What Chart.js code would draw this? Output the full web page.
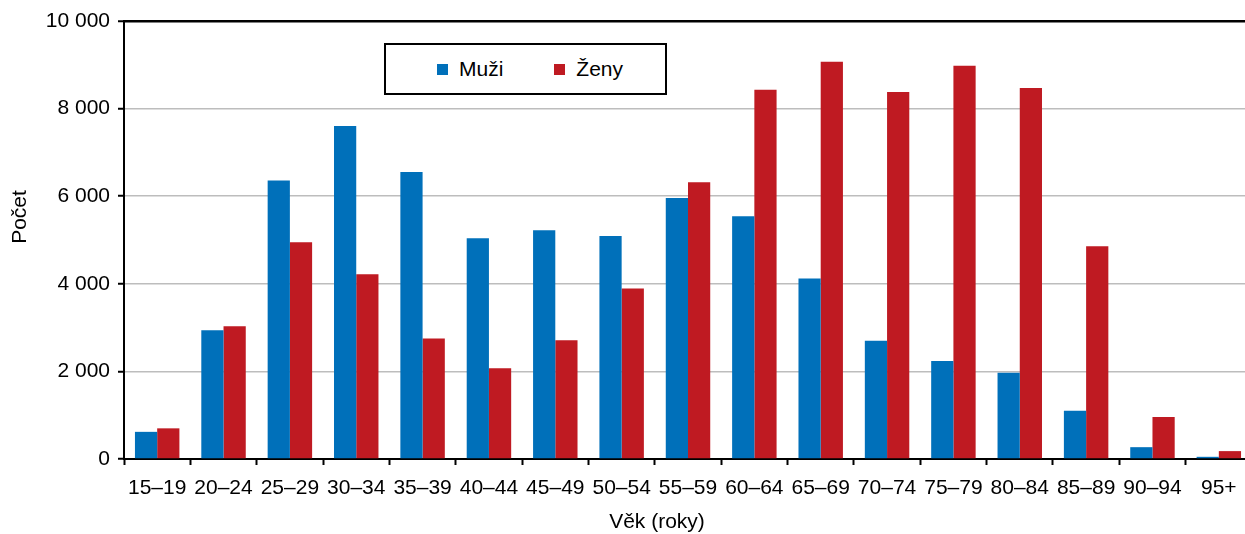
<!DOCTYPE html>
<html lang="cs">
<head>
<meta charset="utf-8">
<title>Počet podle věku</title>
<script src="https://cdn.jsdelivr.net/npm/chart.js@4/dist/chart.umd.min.js"></script>
<style>
  html, body { margin: 0; padding: 0; background: #fff; overflow: hidden; }
  /* plocha grafu v originále přesahuje pravý okraj o pár pixelů */
  #wrap { position: relative; width: 1252px; height: 534px; }
  #chart { display: block; }
  #legend {
    position: absolute; left: 384px; top: 43px; width: 283px; height: 52px;
    box-sizing: border-box; border: 2px solid #000; background: #fff;
    display: flex; align-items: center; padding-left: 51px;
    font: 21px "Liberation Sans", Arial, sans-serif; color: #000;
  }
  #legend .item { display: flex; align-items: center; margin-right: 51px; }
  #legend .box { width: 11px; height: 11px; margin-right: 11px; }
</style>
</head>
<body>
<div id="wrap">
  <canvas id="chart"></canvas>
  <div id="legend"></div>
</div>
<script>
  // --- data ---
  const ageGroups = ["15–19", "20–24", "25–29", "30–34", "35–39", "40–44", "45–49", "50–54",
                     "55–59", "60–64", "65–69", "70–74", "75–79", "80–84", "85–89", "90–94", "95+"];
  const muzi = [620, 2940, 6360, 7600, 6550, 5040, 5220, 5090, 5960, 5540, 4120, 2700, 2240, 1970, 1100, 270, 50];
  const zeny = [700, 3030, 4950, 4220, 2750, 2070, 2710, 3890, 6320, 8430, 9070, 8380, 8980, 8470, 4860, 960, 180];
  const yTicks = [0, 2000, 4000, 6000, 8000, 10000];

  const FONT = "'Liberation Sans', Arial, sans-serif";
  const BLUE = "#0070BA";
  const RED = "#BF1A22";

  // mezery mezi tisíci: 10 000
  function fmt(v) {
    return String(v).replace(/\B(?=(\d{3})+(?!\d))/g, " ");
  }

  // popisky os kreslené ručně (pozice mimo střed osy)
  const axisTitles = {
    id: "axisTitles",
    afterDraw(chart) {
      const c = chart.ctx;
      c.save();
      c.fillStyle = "#000";
      c.font = "21px " + FONT;
      c.textAlign = "center";
      c.textBaseline = "middle";
      c.fillText("Věk (roky)", 657, 522);
      c.translate(20, 217);
      c.rotate(-Math.PI / 2);
      c.fillText("Počet", 0, 0);
      c.restore();
    }
  };

  const chart = new Chart(document.getElementById("chart"), {
    type: "bar",
    data: {
      labels: ageGroups,
      datasets: [
        { label: "Muži", data: muzi, backgroundColor: BLUE, borderWidth: 0 },
        { label: "Ženy", data: zeny, backgroundColor: RED, borderWidth: 0 }
      ]
    },
    options: {
      responsive: true,
      maintainAspectRatio: false,
      animation: false,
      layout: { padding: { top: 21, left: 0, right: 0, bottom: 0 } },
      datasets: { bar: { categoryPercentage: 0.67, barPercentage: 1 } },
      plugins: {
        legend: { display: false },
        tooltip: { enabled: false }
      },
      scales: {
        x: {
          afterFit: (s) => {
            s.height = 75;
            s.paddingLeft = 0;
            s.paddingRight = 0;
          },
          grid: {
            offset: true,
            drawOnChartArea: false,
            drawTicks: true,
            tickLength: 6,
            tickColor: "#000",
            tickWidth: 2
          },
          border: { color: "#000", width: 2 },
          ticks: { color: "#000", font: { family: FONT, size: 21 }, padding: 11, maxRotation: 0, autoSkip: false }
        },
        y: {
          min: 0,
          max: 10000,
          afterFit: (s) => { s.width = 124; },
          afterBuildTicks: (s) => { s.ticks = yTicks.map(v => ({ value: v })); },
          grid: {
            color: (ctx) => ctx.tick && ctx.tick.value === 10000 ? "#000" : "#BDBDBD",
            lineWidth: (ctx) => ctx.tick && ctx.tick.value === 10000 ? 2.5 : 1.5,
            drawTicks: true,
            tickLength: 6,
            tickColor: "#000",
            tickWidth: 2
          },
          border: { color: "#000", width: 2 },
          ticks: {
            color: "#000",
            font: { family: FONT, size: 21 },
            padding: 8,
            callback: (v) => fmt(v)
          }
        }
      }
    },
    plugins: [axisTitles]
  });

  // legenda v rámečku, sestavená z datových řad
  const legend = document.getElementById("legend");
  chart.data.datasets.forEach((ds) => {
    const item = document.createElement("span");
    item.className = "item";
    const box = document.createElement("span");
    box.className = "box";
    box.style.background = ds.backgroundColor;
    item.appendChild(box);
    item.appendChild(document.createTextNode(ds.label));
    legend.appendChild(item);
  });
</script>
</body>
</html>
